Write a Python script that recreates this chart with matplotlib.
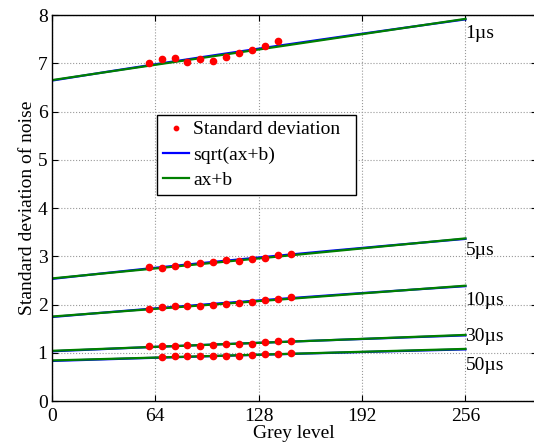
import numpy as np
import matplotlib
matplotlib.use("Agg")
import matplotlib.pyplot as plt

plt.rcParams['font.family'] = ['Liberation Serif', 'DejaVu Serif']

# Measured points (grey level, standard deviation of noise)
grey_11 = [60, 68, 76, 84, 92, 100, 108, 116, 124, 132, 140]
grey_12 = [60, 68, 76, 84, 92, 100, 108, 116, 124, 132, 140, 148]
grey_50 = [68, 76, 84, 92, 100, 108, 116, 124, 132, 140, 148]

std_1us = [7.00, 7.08, 7.10, 7.03, 7.08, 7.04, 7.13, 7.21, 7.27, 7.35, 7.47]
std_5us = [2.77, 2.75, 2.79, 2.83, 2.87, 2.88, 2.92, 2.91, 2.94, 2.96, 3.03, 3.05]
std_10us = [1.90, 1.95, 1.96, 1.97, 1.97, 1.98, 2.01, 2.03, 2.06, 2.09, 2.11, 2.16]
std_30us = [1.13, 1.14, 1.15, 1.16, 1.15, 1.16, 1.18, 1.18, 1.19, 1.22, 1.25, 1.25]
std_50us = [0.92, 0.93, 0.93, 0.93, 0.93, 0.94, 0.94, 0.95, 0.97, 0.98, 1.00]

# Fitted lines, value at grey level 0 and 256
fit_start = [6.65, 2.54, 1.75, 1.04, 0.84]
fit_end = [7.92, 3.37, 2.39, 1.37, 1.08]

labels = ['1\u00b5s', '5\u00b5s', '10\u00b5s', '30\u00b5s', '50\u00b5s']
label_y = [7.62, 3.12, 2.09, 1.33, 0.74]

xs = [grey_11, grey_12, grey_12, grey_12, grey_50]
ys = [std_1us, std_5us, std_10us, std_30us, std_50us]

fig = plt.figure(figsize=(5.34, 4.43), dpi=100)
ax = fig.add_axes([0.0968, 0.0948, 0.9080, 0.8713])

g = np.linspace(0, 256, 200)
for i in range(5):
    s0 = fit_start[i] - 0.01
    s1 = fit_end[i] - 0.01
    b = s0 ** 2
    a = (s1 ** 2 - s0 ** 2) / 256
    lb, = ax.plot(g, np.sqrt(a * g + b), color='#0000ff', lw=1.6)
    lg, = ax.plot([0, 256], [fit_start[i], fit_end[i]], color='#008000', lw=1.6)
    pts, = ax.plot(xs[i], ys[i], 'o', color='red', ms=4.5, mec='red', ls='none')
    ax.text(256, label_y[i], labels[i], fontsize=14, va='center', ha='left')

ax.set_xlim(0, 300)
ax.set_ylim(0, 8)
ax.set_xticks([0, 64, 128, 192, 256])
ax.set_yticks(range(9))
ax.tick_params(direction='in', top=True, right=True, labelsize=14, length=4)
ax.tick_params(axis='x', pad=5)
ax.tick_params(axis='y', pad=3)
ax.grid(True, ls=':', color='#999999', lw=0.8)
for sp in ax.spines.values():
    sp.set_linewidth(1.0)
ax.set_xlabel('Grey level', fontsize=14, labelpad=0)
ax.set_ylabel('Standard deviation of noise', fontsize=14, labelpad=1)

leg = ax.legend([pts, lb, lg], ['Standard deviation  ', 'sqrt(ax+b)', 'ax+b'],
                loc='upper left', bbox_to_anchor=(0.218, 0.741), borderaxespad=0,
                fontsize=14, fancybox=False, edgecolor='black', framealpha=1,
                handlelength=1.3, handletextpad=0.25, labelspacing=0.4,
                borderpad=0.3, markerscale=0.7)
leg.get_frame().set_linewidth(1.0)

fig.savefig('out.png', dpi=100)
